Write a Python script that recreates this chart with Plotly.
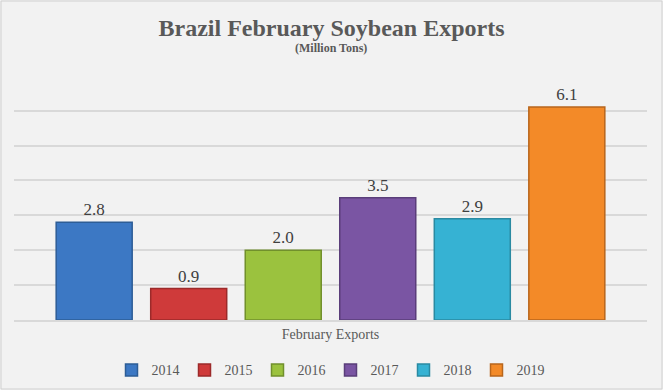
import plotly.graph_objects as go

category = ["February Exports"]
years = ["2014", "2015", "2016", "2017", "2018", "2019"]
values = [2.8, 0.9, 2.0, 3.5, 2.9, 6.1]
colors = ["#3c78c4", "#cf3a3a", "#9bc23e", "#7a55a3", "#36b2d3", "#f38a28"]
edges = ["#2d5d96", "#9c2a2a", "#71902c", "#5a3e7a", "#2a8aa2", "#b8661c"]

SERIF = "Liberation Serif, Times New Roman, serif"
W, H = 663, 390
ml, mr, mt, mb = 14, 16, 75, 70

fig = go.Figure()
for y, v, c, e in zip(years, values, colors, edges):
    fig.add_trace(go.Bar(
        x=category, y=[v], name=y,
        marker=dict(color=c, line=dict(color=e, width=1.5)),
        text=[f"{v:.1f}"], textposition="outside",
        textfont=dict(family=SERIF, size=17, color="#404040"),
        outsidetextfont=dict(family=SERIF, size=17, color="#404040"),
        cliponaxis=False,
    ))

fig.update_layout(
    width=W, height=H,
    margin=dict(l=ml, r=mr, t=mt, b=mb, autoexpand=False),
    paper_bgcolor="#f2f2f2", plot_bgcolor="#f2f2f2",
    font=dict(family=SERIF, color="#595959"),
    barmode="group", bargap=0.104, bargroupgap=0.196,
    showlegend=True,
    legend=dict(orientation="h", x=0.5, xanchor="center", y=-0.14, yanchor="top",
                font=dict(family=SERIF, size=14, color="#595959"),
                itemwidth=30, traceorder="normal",
                bgcolor="rgba(0,0,0,0)"),
    title=dict(
        text="<b>Brazil February Soybean Exports</b>",
        x=0.5, xanchor="center", y=0.93, yanchor="middle",
        font=dict(family=SERIF, size=24, color="#595959"),
    ),
    annotations=[dict(text="<b>(Million Tons)</b>", xref="paper", yref="paper",
                      x=0.5, y=1 + 27 / (H - mt - mb), xanchor="center", yanchor="middle",
                      showarrow=False, font=dict(family=SERIF, size=12, color="#595959"))],
    xaxis=dict(showgrid=False, showline=True, linecolor="#d9d9d9", linewidth=2,
               tickfont=dict(family=SERIF, size=14, color="#595959"),
               ticks="", ticklen=0),
    yaxis=dict(range=[0, 7.02], tickvals=[1, 2, 3, 4, 5, 6, 7], showticklabels=False,
               gridcolor="#d9d9d9", gridwidth=2, zeroline=False, showline=False, ticks=""),
    shapes=[dict(type="rect", xref="paper", yref="paper",
                 x0=-(ml - 1) / (W - ml - mr), x1=1 + (mr - 1) / (W - ml - mr),
                 y0=-(mb - 1) / (H - mt - mb), y1=1 + (mt - 1) / (H - mt - mb),
                 line=dict(color="#d0d0d0", width=1), layer="below")],
)

fig.write_html("out.html", config={"displayModeBar": False},
               post_script="document.body.style.margin='0';")
